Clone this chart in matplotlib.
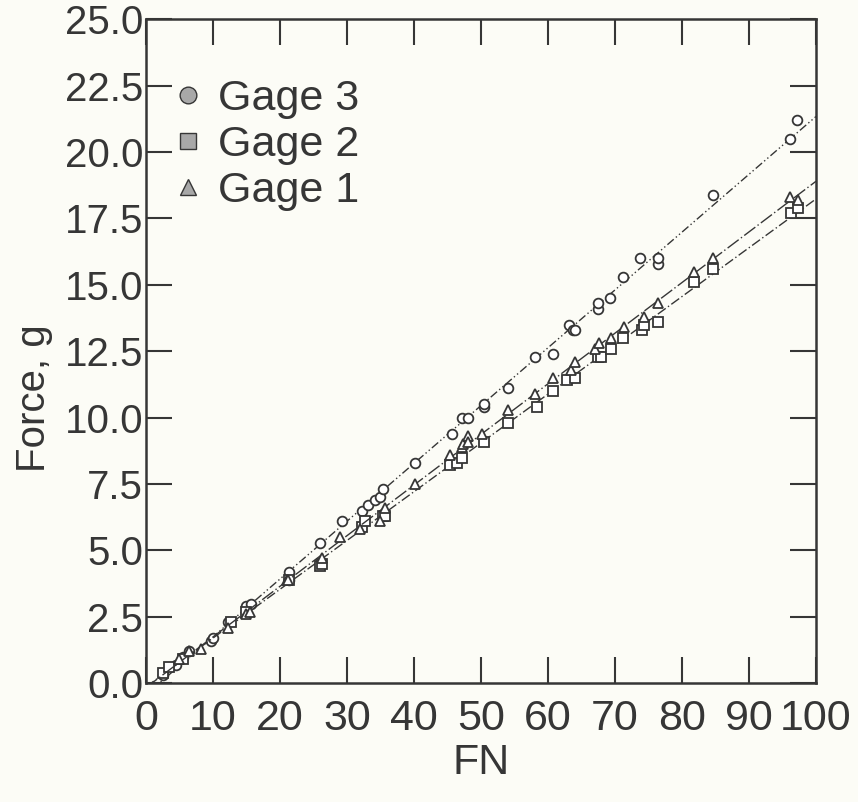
import numpy as np
import matplotlib.pyplot as plt

plt.rcParams['font.family'] = ['Liberation Sans', 'DejaVu Sans']

# Gage 3 (circles)
g3_x = [2.5, 4.5, 5.5, 6.4, 9.7, 10.0, 12.3, 14.9, 15.7, 21.4, 21.4, 26.0, 29.3, 32.3,
        33.2, 34.2, 35.0, 35.4, 40.2, 45.7, 47.2, 48.1, 50.4, 50.4, 54.0, 58.1, 60.7,
        63.1, 63.8, 64.1, 67.4, 67.4, 69.2, 71.2, 73.8, 76.4, 76.4, 84.6, 96.1, 97.2]
g3_y = [0.3, 0.7, 1.0, 1.2, 1.6, 1.7, 2.3, 2.9, 3.0, 3.9, 4.2, 5.3, 6.1, 6.5,
        6.7, 6.9, 7.0, 7.3, 8.3, 9.4, 10.0, 10.0, 10.4, 10.5, 11.1, 12.3, 12.4,
        13.5, 13.3, 13.3, 14.1, 14.3, 14.5, 15.3, 16.0, 15.8, 16.0, 18.4, 20.5, 21.2]

# Gage 2 (squares)
g2_x = [2.5, 3.4, 5.5, 12.7, 14.9, 21.4, 26.0, 26.3, 32.3, 32.7, 35.4, 35.7, 45.4,
        46.5, 47.2, 50.4, 54.1, 58.4, 60.7, 62.9, 64.1, 67.4, 67.9, 69.4, 71.2, 74.1,
        74.3, 76.4, 81.8, 84.6, 96.3, 97.3]
g2_y = [0.4, 0.6, 0.9, 2.3, 2.7, 3.9, 4.4, 4.5, 5.9, 6.1, 6.3, 6.3, 8.2,
        8.3, 8.5, 9.1, 9.8, 10.4, 11.0, 11.4, 11.5, 12.3, 12.3, 12.6, 13.0, 13.3,
        13.5, 13.6, 15.1, 15.6, 17.7, 17.9]

# Gage 1 (triangles)
g1_x = [4.9, 6.4, 8.2, 12.3, 14.9, 15.5, 21.0, 21.2, 26.3, 29.0, 32.0, 35.0, 35.7,
        40.2, 45.4, 47.2, 47.4, 48.0, 48.1, 50.2, 54.1, 58.1, 60.7, 63.4, 64.1, 67.1,
        67.6, 69.4, 71.3, 74.3, 76.4, 81.8, 84.6, 96.1, 97.3]
g1_y = [0.9, 1.2, 1.3, 2.1, 2.6, 2.7, 3.9, 3.9, 4.7, 5.5, 5.8, 6.1, 6.6,
        7.5, 8.6, 8.9, 9.0, 9.3, 9.1, 9.4, 10.3, 10.9, 11.5, 11.8, 12.1, 12.6,
        12.8, 13.0, 13.4, 13.8, 14.3, 15.5, 16.0, 18.3, 18.2]

ink = '#363636'
bg = '#fcfcf6'

fig = plt.figure(figsize=(8.58, 8.02), dpi=100, facecolor=bg)
ax = fig.add_axes([0.170, 0.148, 0.781, 0.828], facecolor=bg)

series = [
    (g3_x, g3_y, 'o', 'Gage 3', (0, (1, 2, 1, 2, 6, 2))),
    (g2_x, g2_y, 's', 'Gage 2', (0, (7, 2, 1, 2))),
    (g1_x, g1_y, '^', 'Gage 1', (0, (10, 2, 1, 2))),
]

xx = np.array([0, 100])
handles = []
for x, y, m, lab, ls in series:
    k, b = np.polyfit(x, y, 1)
    ax.plot(xx, k * xx + b, color=ink, lw=1.0, ls=ls)
    ax.plot(x, y, ls='none', marker=m, ms=7, mfc='white', mec=ink, mew=1.3)
    h, = ax.plot([], [], ls='none', marker=m, ms=12, mfc='#a8a8a8', mec=ink, mew=1.0, label=lab)
    handles.append(h)

ax.set_xlim(0, 100)
ax.set_ylim(0, 25)
ax.set_xticks(np.arange(0, 101, 10))
ax.set_yticks(np.arange(0, 25.1, 2.5))
ax.set_yticklabels(['%.1f' % v for v in np.arange(0, 25.1, 2.5)])
ax.tick_params(direction='in', length=19, width=1.5, top=True, right=True,
               colors=ink)
ax.tick_params(axis='y', labelsize=29, pad=2)
ax.tick_params(axis='x', labelsize=31, pad=11)
for s in ax.spines.values():
    s.set_linewidth(1.8)
    s.set_color(ink)

ax.set_xlabel('FN', fontsize=31, color=ink, labelpad=3)
ax.set_ylabel('Force, g', fontsize=29, color=ink)
ax.yaxis.set_label_coords(-0.138, 0.43)

ax.legend(handles=handles, loc='upper left', bbox_to_anchor=(-0.008, 0.955), frameon=False,
          fontsize=31, handlelength=0.8, handletextpad=0.3, labelspacing=0.14,
          labelcolor=ink, borderaxespad=0.3)

fig.savefig('out.png', dpi=100, facecolor=bg)
